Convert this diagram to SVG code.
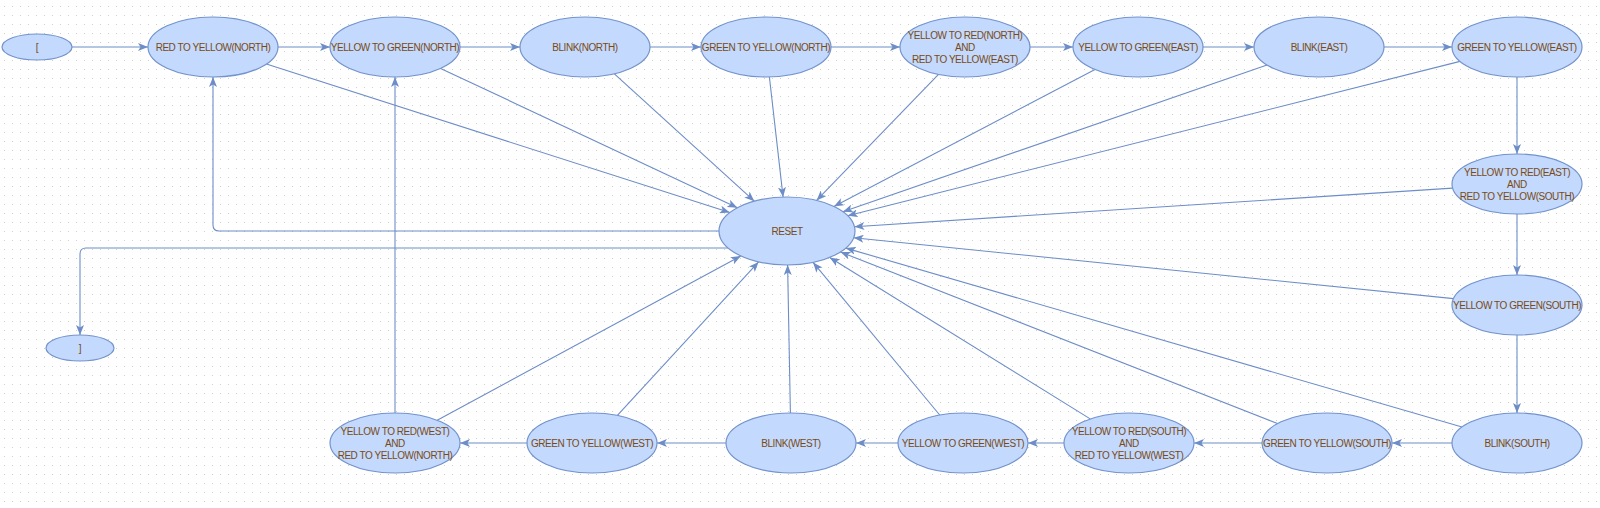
<svg xmlns="http://www.w3.org/2000/svg" width="1600" height="508" viewBox="0 0 1600 508">
<style>
.n ellipse{fill:#c3d9fd;stroke:#7393cc;stroke-width:1.2}
.n text{font-family:"Liberation Sans",Arial,sans-serif;font-size:10px;fill:#7a4a14;text-anchor:middle;dominant-baseline:central;letter-spacing:-0.45px}
.c path,.c line{stroke:#6d8dc8;stroke-width:1.1;fill:none;marker-end:url(#ah)}
</style>
<defs>
<pattern id="grid" x="4" y="6" width="8" height="9" patternUnits="userSpaceOnUse">
<rect x="0" y="0" width="1" height="1" fill="#cfcfcf"/>
</pattern>
<marker id="ah" markerUnits="userSpaceOnUse" markerWidth="10" markerHeight="8" refX="10" refY="4" orient="auto" viewBox="0 0 10 8">
<path d="M0,0 L10,4 L0,8 L2.5,4 Z" fill="#6d8dc8"/>
</marker>
</defs>
<rect width="1600" height="508" fill="#ffffff"/>
<rect width="1600" height="508" fill="url(#grid)"/>
<g id="connectors" class="c">
<line x1="72" y1="47" x2="148" y2="47"/>
<line x1="278" y1="47" x2="330" y2="47"/>
<line x1="460" y1="47" x2="520" y2="47"/>
<line x1="650" y1="47" x2="701" y2="47"/>
<line x1="831" y1="47" x2="900" y2="47"/>
<line x1="1030" y1="47" x2="1073" y2="47"/>
<line x1="1203" y1="47" x2="1254" y2="47"/>
<line x1="1384" y1="47" x2="1452" y2="47"/>
<line x1="1517" y1="77" x2="1517" y2="154"/>
<line x1="1517" y1="214" x2="1517" y2="275"/>
<line x1="1517" y1="335" x2="1517" y2="413"/>
<line x1="1452" y1="443" x2="1392" y2="443"/>
<line x1="1262" y1="443" x2="1194" y2="443"/>
<line x1="1064" y1="443" x2="1028" y2="443"/>
<line x1="898" y1="443" x2="856" y2="443"/>
<line x1="726" y1="443" x2="657" y2="443"/>
<line x1="527" y1="443" x2="460" y2="443"/>
<line x1="395" y1="413" x2="395" y2="77"/>
<path d="M719,231 H219 Q213,231 213,225 V77"/>
<path d="M728,248 H86 Q80,248 80,254 V335"/>
<line x1="266.4" y1="64.1" x2="729.8" y2="212.6"/>
<line x1="440.6" y1="68.4" x2="737.4" y2="207.7"/>
<line x1="614.4" y1="73.8" x2="754.3" y2="201.2"/>
<line x1="769.4" y1="77" x2="783.1" y2="197.1"/>
<line x1="938.5" y1="74.4" x2="816.6" y2="200.4"/>
<line x1="1095" y1="69.5" x2="833.9" y2="206.4"/>
<line x1="1267" y1="65" x2="842.9" y2="211.7"/>
<line x1="1460" y1="61.4" x2="847.7" y2="215.7"/>
<line x1="1452.6" y1="188.1" x2="854.4" y2="226.7"/>
<line x1="1453.5" y1="298.6" x2="853.6" y2="237.8"/>
<line x1="1462" y1="427" x2="845.8" y2="248.1"/>
<line x1="1277.5" y1="423.6" x2="840.5" y2="252"/>
<line x1="1090.2" y1="418.9" x2="829.7" y2="257.5"/>
<line x1="939.7" y1="415" x2="813.1" y2="262.4"/>
<line x1="790.4" y1="413" x2="787.6" y2="265"/>
<line x1="617.4" y1="415.4" x2="758.6" y2="261.9"/>
<line x1="437.2" y1="420.2" x2="740.8" y2="256"/>
</g>
<g id="start" class="n"><ellipse cx="37" cy="47" rx="35" ry="13"/><text x="37" y="47">[</text></g>
<g id="end" class="n"><ellipse cx="80" cy="348" rx="34" ry="13"/><text x="80" y="348">]</text></g>
<g id="reset" class="n"><ellipse cx="787" cy="231" rx="68" ry="34"/><text x="787" y="231">RESET</text></g>
<g id="rty_north" class="n"><ellipse cx="213" cy="47" rx="65" ry="30"/><text x="213" y="47">RED TO YELLOW(NORTH)</text></g>
<g id="ytg_north" class="n"><ellipse cx="395" cy="47" rx="65" ry="30"/><text x="395" y="47">YELLOW TO GREEN(NORTH)</text></g>
<g id="blink_north" class="n"><ellipse cx="585" cy="47" rx="65" ry="30"/><text x="585" y="47">BLINK(NORTH)</text></g>
<g id="gty_north" class="n"><ellipse cx="766" cy="47" rx="65" ry="30"/><text x="766" y="47">GREEN TO YELLOW(NORTH)</text></g>
<g id="ytr_north_rty_east" class="n"><ellipse cx="965" cy="47" rx="65" ry="30"/><text x="965" y="35">YELLOW TO RED(NORTH)</text><text x="965" y="47">AND</text><text x="965" y="59">RED TO YELLOW(EAST)</text></g>
<g id="ytg_east" class="n"><ellipse cx="1138" cy="47" rx="65" ry="30"/><text x="1138" y="47">YELLOW TO GREEN(EAST)</text></g>
<g id="blink_east" class="n"><ellipse cx="1319" cy="47" rx="65" ry="30"/><text x="1319" y="47">BLINK(EAST)</text></g>
<g id="gty_east" class="n"><ellipse cx="1517" cy="47" rx="65" ry="30"/><text x="1517" y="47">GREEN TO YELLOW(EAST)</text></g>
<g id="ytr_east_rty_south" class="n"><ellipse cx="1517" cy="184" rx="65" ry="30"/><text x="1517" y="172">YELLOW TO RED(EAST)</text><text x="1517" y="184">AND</text><text x="1517" y="196">RED TO YELLOW(SOUTH)</text></g>
<g id="ytg_south" class="n"><ellipse cx="1517" cy="305" rx="65" ry="30"/><text x="1517" y="305">YELLOW TO GREEN(SOUTH)</text></g>
<g id="blink_south" class="n"><ellipse cx="1517" cy="443" rx="65" ry="30"/><text x="1517" y="443">BLINK(SOUTH)</text></g>
<g id="gty_south" class="n"><ellipse cx="1327" cy="443" rx="65" ry="30"/><text x="1327" y="443">GREEN TO YELLOW(SOUTH)</text></g>
<g id="ytr_south_rty_west" class="n"><ellipse cx="1129" cy="443" rx="65" ry="30"/><text x="1129" y="431">YELLOW TO RED(SOUTH)</text><text x="1129" y="443">AND</text><text x="1129" y="455">RED TO YELLOW(WEST)</text></g>
<g id="ytg_west" class="n"><ellipse cx="963" cy="443" rx="65" ry="30"/><text x="963" y="443">YELLOW TO GREEN(WEST)</text></g>
<g id="blink_west" class="n"><ellipse cx="791" cy="443" rx="65" ry="30"/><text x="791" y="443">BLINK(WEST)</text></g>
<g id="gty_west" class="n"><ellipse cx="592" cy="443" rx="65" ry="30"/><text x="592" y="443">GREEN TO YELLOW(WEST)</text></g>
<g id="ytr_west_rty_north" class="n"><ellipse cx="395" cy="443" rx="65" ry="30"/><text x="395" y="431">YELLOW TO RED(WEST)</text><text x="395" y="443">AND</text><text x="395" y="455">RED TO YELLOW(NORTH)</text></g>
</svg>
